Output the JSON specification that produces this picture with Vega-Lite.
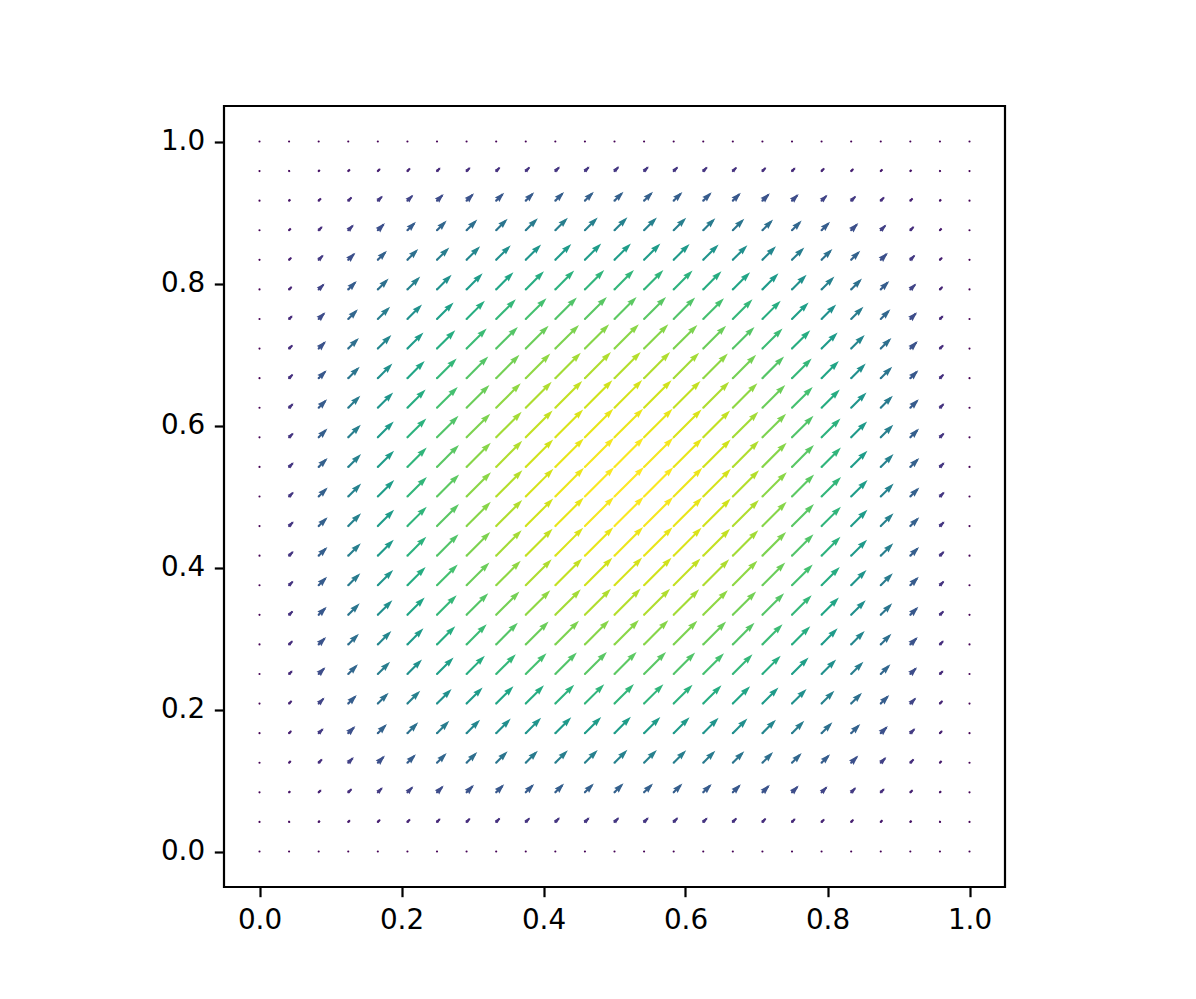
{
"$schema": "https://vega.github.io/schema/vega-lite/v6.json",
"background": "white",
"autosize": "none",
"width": 781,
"height": 781,
"padding": {"left": 224, "top": 106, "right": 191, "bottom": 112},
"config": {
  "view": {"stroke": "black", "strokeWidth": 2.2},
  "axis": {"domain": false, "grid": false, "tickSize": 9.7, "tickWidth": 2.2, "tickColor": "black", "labelFont": "DejaVu Sans", "labelFontSize": 27.8, "labelColor": "black", "labelPadding": 9.7, "labelFlush": false, "labelOverlap": false}
},
"data": {"values": [
{"x":0,"y":0,"m":0},{"x":0.0417,"y":0,"m":0},{"x":0.0833,"y":0,"m":0},{"x":0.125,"y":0,"m":0},{"x":0.1667,"y":0,"m":0},{"x":0.2083,"y":0,"m":0},{"x":0.25,"y":0,"m":0},{"x":0.2917,"y":0,"m":0},{"x":0.3333,"y":0,"m":0},{"x":0.375,"y":0,"m":0},{"x":0.4167,"y":0,"m":0},{"x":0.4583,"y":0,"m":0},{"x":0.5,"y":0,"m":0},{"x":0.5417,"y":0,"m":0},{"x":0.5833,"y":0,"m":0},{"x":0.625,"y":0,"m":0},{"x":0.6667,"y":0,"m":0},{"x":0.7083,"y":0,"m":0},{"x":0.75,"y":0,"m":0},{"x":0.7917,"y":0,"m":0},{"x":0.8333,"y":0,"m":0},{"x":0.875,"y":0,"m":0},{"x":0.9167,"y":0,"m":0},{"x":0.9583,"y":0,"m":0},{"x":1,"y":0,"m":0},
{"x":0,"y":0.0417,"m":0},{"x":0.0417,"y":0.0417,"m":0.026},{"x":0.0833,"y":0.0417,"m":0.049},{"x":0.125,"y":0.0417,"m":0.070},{"x":0.1667,"y":0.0417,"m":0.089},{"x":0.2083,"y":0.0417,"m":0.105},{"x":0.25,"y":0.0417,"m":0.120},{"x":0.2917,"y":0.0417,"m":0.132},{"x":0.3333,"y":0.0417,"m":0.142},{"x":0.375,"y":0.0417,"m":0.150},{"x":0.4167,"y":0.0417,"m":0.155},{"x":0.4583,"y":0.0417,"m":0.159},{"x":0.5,"y":0.0417,"m":0.160},{"x":0.5417,"y":0.0417,"m":0.159},{"x":0.5833,"y":0.0417,"m":0.155},{"x":0.625,"y":0.0417,"m":0.150},{"x":0.6667,"y":0.0417,"m":0.142},{"x":0.7083,"y":0.0417,"m":0.132},{"x":0.75,"y":0.0417,"m":0.120},{"x":0.7917,"y":0.0417,"m":0.105},{"x":0.8333,"y":0.0417,"m":0.089},{"x":0.875,"y":0.0417,"m":0.070},{"x":0.9167,"y":0.0417,"m":0.049},{"x":0.9583,"y":0.0417,"m":0.026},{"x":1,"y":0.0417,"m":0},
{"x":0,"y":0.0833,"m":0},{"x":0.0417,"y":0.0833,"m":0.049},{"x":0.0833,"y":0.0833,"m":0.093},{"x":0.125,"y":0.0833,"m":0.134},{"x":0.1667,"y":0.0833,"m":0.170},{"x":0.2083,"y":0.0833,"m":0.202},{"x":0.25,"y":0.0833,"m":0.229},{"x":0.2917,"y":0.0833,"m":0.253},{"x":0.3333,"y":0.0833,"m":0.272},{"x":0.375,"y":0.0833,"m":0.286},{"x":0.4167,"y":0.0833,"m":0.297},{"x":0.4583,"y":0.0833,"m":0.303},{"x":0.5,"y":0.0833,"m":0.306},{"x":0.5417,"y":0.0833,"m":0.303},{"x":0.5833,"y":0.0833,"m":0.297},{"x":0.625,"y":0.0833,"m":0.286},{"x":0.6667,"y":0.0833,"m":0.272},{"x":0.7083,"y":0.0833,"m":0.253},{"x":0.75,"y":0.0833,"m":0.229},{"x":0.7917,"y":0.0833,"m":0.202},{"x":0.8333,"y":0.0833,"m":0.170},{"x":0.875,"y":0.0833,"m":0.134},{"x":0.9167,"y":0.0833,"m":0.093},{"x":0.9583,"y":0.0833,"m":0.049},{"x":1,"y":0.0833,"m":0},
{"x":0,"y":0.125,"m":0},{"x":0.0417,"y":0.125,"m":0.070},{"x":0.0833,"y":0.125,"m":0.134},{"x":0.125,"y":0.125,"m":0.191},{"x":0.1667,"y":0.125,"m":0.243},{"x":0.2083,"y":0.125,"m":0.289},{"x":0.25,"y":0.125,"m":0.328},{"x":0.2917,"y":0.125,"m":0.362},{"x":0.3333,"y":0.125,"m":0.389},{"x":0.375,"y":0.125,"m":0.410},{"x":0.4167,"y":0.125,"m":0.425},{"x":0.4583,"y":0.125,"m":0.434},{"x":0.5,"y":0.125,"m":0.438},{"x":0.5417,"y":0.125,"m":0.434},{"x":0.5833,"y":0.125,"m":0.425},{"x":0.625,"y":0.125,"m":0.410},{"x":0.6667,"y":0.125,"m":0.389},{"x":0.7083,"y":0.125,"m":0.362},{"x":0.75,"y":0.125,"m":0.328},{"x":0.7917,"y":0.125,"m":0.289},{"x":0.8333,"y":0.125,"m":0.243},{"x":0.875,"y":0.125,"m":0.191},{"x":0.9167,"y":0.125,"m":0.134},{"x":0.9583,"y":0.125,"m":0.070},{"x":1,"y":0.125,"m":0},
{"x":0,"y":0.1667,"m":0},{"x":0.0417,"y":0.1667,"m":0.089},{"x":0.0833,"y":0.1667,"m":0.170},{"x":0.125,"y":0.1667,"m":0.243},{"x":0.1667,"y":0.1667,"m":0.309},{"x":0.2083,"y":0.1667,"m":0.367},{"x":0.25,"y":0.1667,"m":0.417},{"x":0.2917,"y":0.1667,"m":0.459},{"x":0.3333,"y":0.1667,"m":0.494},{"x":0.375,"y":0.1667,"m":0.521},{"x":0.4167,"y":0.1667,"m":0.540},{"x":0.4583,"y":0.1667,"m":0.552},{"x":0.5,"y":0.1667,"m":0.556},{"x":0.5417,"y":0.1667,"m":0.552},{"x":0.5833,"y":0.1667,"m":0.540},{"x":0.625,"y":0.1667,"m":0.521},{"x":0.6667,"y":0.1667,"m":0.494},{"x":0.7083,"y":0.1667,"m":0.459},{"x":0.75,"y":0.1667,"m":0.417},{"x":0.7917,"y":0.1667,"m":0.367},{"x":0.8333,"y":0.1667,"m":0.309},{"x":0.875,"y":0.1667,"m":0.243},{"x":0.9167,"y":0.1667,"m":0.170},{"x":0.9583,"y":0.1667,"m":0.089},{"x":1,"y":0.1667,"m":0},
{"x":0,"y":0.2083,"m":0},{"x":0.0417,"y":0.2083,"m":0.105},{"x":0.0833,"y":0.2083,"m":0.202},{"x":0.125,"y":0.2083,"m":0.289},{"x":0.1667,"y":0.2083,"m":0.367},{"x":0.2083,"y":0.2083,"m":0.435},{"x":0.25,"y":0.2083,"m":0.495},{"x":0.2917,"y":0.2083,"m":0.545},{"x":0.3333,"y":0.2083,"m":0.586},{"x":0.375,"y":0.2083,"m":0.618},{"x":0.4167,"y":0.2083,"m":0.641},{"x":0.4583,"y":0.2083,"m":0.655},{"x":0.5,"y":0.2083,"m":0.660},{"x":0.5417,"y":0.2083,"m":0.655},{"x":0.5833,"y":0.2083,"m":0.641},{"x":0.625,"y":0.2083,"m":0.618},{"x":0.6667,"y":0.2083,"m":0.586},{"x":0.7083,"y":0.2083,"m":0.545},{"x":0.75,"y":0.2083,"m":0.495},{"x":0.7917,"y":0.2083,"m":0.435},{"x":0.8333,"y":0.2083,"m":0.367},{"x":0.875,"y":0.2083,"m":0.289},{"x":0.9167,"y":0.2083,"m":0.202},{"x":0.9583,"y":0.2083,"m":0.105},{"x":1,"y":0.2083,"m":0},
{"x":0,"y":0.25,"m":0},{"x":0.0417,"y":0.25,"m":0.120},{"x":0.0833,"y":0.25,"m":0.229},{"x":0.125,"y":0.25,"m":0.328},{"x":0.1667,"y":0.25,"m":0.417},{"x":0.2083,"y":0.25,"m":0.495},{"x":0.25,"y":0.25,"m":0.563},{"x":0.2917,"y":0.25,"m":0.620},{"x":0.3333,"y":0.25,"m":0.667},{"x":0.375,"y":0.25,"m":0.703},{"x":0.4167,"y":0.25,"m":0.729},{"x":0.4583,"y":0.25,"m":0.745},{"x":0.5,"y":0.25,"m":0.750},{"x":0.5417,"y":0.25,"m":0.745},{"x":0.5833,"y":0.25,"m":0.729},{"x":0.625,"y":0.25,"m":0.703},{"x":0.6667,"y":0.25,"m":0.667},{"x":0.7083,"y":0.25,"m":0.620},{"x":0.75,"y":0.25,"m":0.563},{"x":0.7917,"y":0.25,"m":0.495},{"x":0.8333,"y":0.25,"m":0.417},{"x":0.875,"y":0.25,"m":0.328},{"x":0.9167,"y":0.25,"m":0.229},{"x":0.9583,"y":0.25,"m":0.120},{"x":1,"y":0.25,"m":0},
{"x":0,"y":0.2917,"m":0},{"x":0.0417,"y":0.2917,"m":0.132},{"x":0.0833,"y":0.2917,"m":0.253},{"x":0.125,"y":0.2917,"m":0.362},{"x":0.1667,"y":0.2917,"m":0.459},{"x":0.2083,"y":0.2917,"m":0.545},{"x":0.25,"y":0.2917,"m":0.620},{"x":0.2917,"y":0.2917,"m":0.683},{"x":0.3333,"y":0.2917,"m":0.735},{"x":0.375,"y":0.2917,"m":0.775},{"x":0.4167,"y":0.2917,"m":0.803},{"x":0.4583,"y":0.2917,"m":0.821},{"x":0.5,"y":0.2917,"m":0.826},{"x":0.5417,"y":0.2917,"m":0.821},{"x":0.5833,"y":0.2917,"m":0.803},{"x":0.625,"y":0.2917,"m":0.775},{"x":0.6667,"y":0.2917,"m":0.735},{"x":0.7083,"y":0.2917,"m":0.683},{"x":0.75,"y":0.2917,"m":0.620},{"x":0.7917,"y":0.2917,"m":0.545},{"x":0.8333,"y":0.2917,"m":0.459},{"x":0.875,"y":0.2917,"m":0.362},{"x":0.9167,"y":0.2917,"m":0.253},{"x":0.9583,"y":0.2917,"m":0.132},{"x":1,"y":0.2917,"m":0},
{"x":0,"y":0.3333,"m":0},{"x":0.0417,"y":0.3333,"m":0.142},{"x":0.0833,"y":0.3333,"m":0.272},{"x":0.125,"y":0.3333,"m":0.389},{"x":0.1667,"y":0.3333,"m":0.494},{"x":0.2083,"y":0.3333,"m":0.586},{"x":0.25,"y":0.3333,"m":0.667},{"x":0.2917,"y":0.3333,"m":0.735},{"x":0.3333,"y":0.3333,"m":0.790},{"x":0.375,"y":0.3333,"m":0.833},{"x":0.4167,"y":0.3333,"m":0.864},{"x":0.4583,"y":0.3333,"m":0.883},{"x":0.5,"y":0.3333,"m":0.889},{"x":0.5417,"y":0.3333,"m":0.883},{"x":0.5833,"y":0.3333,"m":0.864},{"x":0.625,"y":0.3333,"m":0.833},{"x":0.6667,"y":0.3333,"m":0.790},{"x":0.7083,"y":0.3333,"m":0.735},{"x":0.75,"y":0.3333,"m":0.667},{"x":0.7917,"y":0.3333,"m":0.586},{"x":0.8333,"y":0.3333,"m":0.494},{"x":0.875,"y":0.3333,"m":0.389},{"x":0.9167,"y":0.3333,"m":0.272},{"x":0.9583,"y":0.3333,"m":0.142},{"x":1,"y":0.3333,"m":0},
{"x":0,"y":0.375,"m":0},{"x":0.0417,"y":0.375,"m":0.150},{"x":0.0833,"y":0.375,"m":0.286},{"x":0.125,"y":0.375,"m":0.410},{"x":0.1667,"y":0.375,"m":0.521},{"x":0.2083,"y":0.375,"m":0.618},{"x":0.25,"y":0.375,"m":0.703},{"x":0.2917,"y":0.375,"m":0.775},{"x":0.3333,"y":0.375,"m":0.833},{"x":0.375,"y":0.375,"m":0.879},{"x":0.4167,"y":0.375,"m":0.911},{"x":0.4583,"y":0.375,"m":0.931},{"x":0.5,"y":0.375,"m":0.938},{"x":0.5417,"y":0.375,"m":0.931},{"x":0.5833,"y":0.375,"m":0.911},{"x":0.625,"y":0.375,"m":0.879},{"x":0.6667,"y":0.375,"m":0.833},{"x":0.7083,"y":0.375,"m":0.775},{"x":0.75,"y":0.375,"m":0.703},{"x":0.7917,"y":0.375,"m":0.618},{"x":0.8333,"y":0.375,"m":0.521},{"x":0.875,"y":0.375,"m":0.410},{"x":0.9167,"y":0.375,"m":0.286},{"x":0.9583,"y":0.375,"m":0.150},{"x":1,"y":0.375,"m":0},
{"x":0,"y":0.4167,"m":0},{"x":0.0417,"y":0.4167,"m":0.155},{"x":0.0833,"y":0.4167,"m":0.297},{"x":0.125,"y":0.4167,"m":0.425},{"x":0.1667,"y":0.4167,"m":0.540},{"x":0.2083,"y":0.4167,"m":0.641},{"x":0.25,"y":0.4167,"m":0.729},{"x":0.2917,"y":0.4167,"m":0.803},{"x":0.3333,"y":0.4167,"m":0.864},{"x":0.375,"y":0.4167,"m":0.911},{"x":0.4167,"y":0.4167,"m":0.945},{"x":0.4583,"y":0.4167,"m":0.965},{"x":0.5,"y":0.4167,"m":0.972},{"x":0.5417,"y":0.4167,"m":0.965},{"x":0.5833,"y":0.4167,"m":0.945},{"x":0.625,"y":0.4167,"m":0.911},{"x":0.6667,"y":0.4167,"m":0.864},{"x":0.7083,"y":0.4167,"m":0.803},{"x":0.75,"y":0.4167,"m":0.729},{"x":0.7917,"y":0.4167,"m":0.641},{"x":0.8333,"y":0.4167,"m":0.540},{"x":0.875,"y":0.4167,"m":0.425},{"x":0.9167,"y":0.4167,"m":0.297},{"x":0.9583,"y":0.4167,"m":0.155},{"x":1,"y":0.4167,"m":0},
{"x":0,"y":0.4583,"m":0},{"x":0.0417,"y":0.4583,"m":0.159},{"x":0.0833,"y":0.4583,"m":0.303},{"x":0.125,"y":0.4583,"m":0.434},{"x":0.1667,"y":0.4583,"m":0.552},{"x":0.2083,"y":0.4583,"m":0.655},{"x":0.25,"y":0.4583,"m":0.745},{"x":0.2917,"y":0.4583,"m":0.821},{"x":0.3333,"y":0.4583,"m":0.883},{"x":0.375,"y":0.4583,"m":0.931},{"x":0.4167,"y":0.4583,"m":0.965},{"x":0.4583,"y":0.4583,"m":0.986},{"x":0.5,"y":0.4583,"m":0.993},{"x":0.5417,"y":0.4583,"m":0.986},{"x":0.5833,"y":0.4583,"m":0.965},{"x":0.625,"y":0.4583,"m":0.931},{"x":0.6667,"y":0.4583,"m":0.883},{"x":0.7083,"y":0.4583,"m":0.821},{"x":0.75,"y":0.4583,"m":0.745},{"x":0.7917,"y":0.4583,"m":0.655},{"x":0.8333,"y":0.4583,"m":0.552},{"x":0.875,"y":0.4583,"m":0.434},{"x":0.9167,"y":0.4583,"m":0.303},{"x":0.9583,"y":0.4583,"m":0.159},{"x":1,"y":0.4583,"m":0},
{"x":0,"y":0.5,"m":0},{"x":0.0417,"y":0.5,"m":0.160},{"x":0.0833,"y":0.5,"m":0.306},{"x":0.125,"y":0.5,"m":0.438},{"x":0.1667,"y":0.5,"m":0.556},{"x":0.2083,"y":0.5,"m":0.660},{"x":0.25,"y":0.5,"m":0.750},{"x":0.2917,"y":0.5,"m":0.826},{"x":0.3333,"y":0.5,"m":0.889},{"x":0.375,"y":0.5,"m":0.938},{"x":0.4167,"y":0.5,"m":0.972},{"x":0.4583,"y":0.5,"m":0.993},{"x":0.5,"y":0.5,"m":1},{"x":0.5417,"y":0.5,"m":0.993},{"x":0.5833,"y":0.5,"m":0.972},{"x":0.625,"y":0.5,"m":0.938},{"x":0.6667,"y":0.5,"m":0.889},{"x":0.7083,"y":0.5,"m":0.826},{"x":0.75,"y":0.5,"m":0.750},{"x":0.7917,"y":0.5,"m":0.660},{"x":0.8333,"y":0.5,"m":0.556},{"x":0.875,"y":0.5,"m":0.438},{"x":0.9167,"y":0.5,"m":0.306},{"x":0.9583,"y":0.5,"m":0.160},{"x":1,"y":0.5,"m":0},
{"x":0,"y":0.5417,"m":0},{"x":0.0417,"y":0.5417,"m":0.159},{"x":0.0833,"y":0.5417,"m":0.303},{"x":0.125,"y":0.5417,"m":0.434},{"x":0.1667,"y":0.5417,"m":0.552},{"x":0.2083,"y":0.5417,"m":0.655},{"x":0.25,"y":0.5417,"m":0.745},{"x":0.2917,"y":0.5417,"m":0.821},{"x":0.3333,"y":0.5417,"m":0.883},{"x":0.375,"y":0.5417,"m":0.931},{"x":0.4167,"y":0.5417,"m":0.965},{"x":0.4583,"y":0.5417,"m":0.986},{"x":0.5,"y":0.5417,"m":0.993},{"x":0.5417,"y":0.5417,"m":0.986},{"x":0.5833,"y":0.5417,"m":0.965},{"x":0.625,"y":0.5417,"m":0.931},{"x":0.6667,"y":0.5417,"m":0.883},{"x":0.7083,"y":0.5417,"m":0.821},{"x":0.75,"y":0.5417,"m":0.745},{"x":0.7917,"y":0.5417,"m":0.655},{"x":0.8333,"y":0.5417,"m":0.552},{"x":0.875,"y":0.5417,"m":0.434},{"x":0.9167,"y":0.5417,"m":0.303},{"x":0.9583,"y":0.5417,"m":0.159},{"x":1,"y":0.5417,"m":0},
{"x":0,"y":0.5833,"m":0},{"x":0.0417,"y":0.5833,"m":0.155},{"x":0.0833,"y":0.5833,"m":0.297},{"x":0.125,"y":0.5833,"m":0.425},{"x":0.1667,"y":0.5833,"m":0.540},{"x":0.2083,"y":0.5833,"m":0.641},{"x":0.25,"y":0.5833,"m":0.729},{"x":0.2917,"y":0.5833,"m":0.803},{"x":0.3333,"y":0.5833,"m":0.864},{"x":0.375,"y":0.5833,"m":0.911},{"x":0.4167,"y":0.5833,"m":0.945},{"x":0.4583,"y":0.5833,"m":0.965},{"x":0.5,"y":0.5833,"m":0.972},{"x":0.5417,"y":0.5833,"m":0.965},{"x":0.5833,"y":0.5833,"m":0.945},{"x":0.625,"y":0.5833,"m":0.911},{"x":0.6667,"y":0.5833,"m":0.864},{"x":0.7083,"y":0.5833,"m":0.803},{"x":0.75,"y":0.5833,"m":0.729},{"x":0.7917,"y":0.5833,"m":0.641},{"x":0.8333,"y":0.5833,"m":0.540},{"x":0.875,"y":0.5833,"m":0.425},{"x":0.9167,"y":0.5833,"m":0.297},{"x":0.9583,"y":0.5833,"m":0.155},{"x":1,"y":0.5833,"m":0},
{"x":0,"y":0.625,"m":0},{"x":0.0417,"y":0.625,"m":0.150},{"x":0.0833,"y":0.625,"m":0.286},{"x":0.125,"y":0.625,"m":0.410},{"x":0.1667,"y":0.625,"m":0.521},{"x":0.2083,"y":0.625,"m":0.618},{"x":0.25,"y":0.625,"m":0.703},{"x":0.2917,"y":0.625,"m":0.775},{"x":0.3333,"y":0.625,"m":0.833},{"x":0.375,"y":0.625,"m":0.879},{"x":0.4167,"y":0.625,"m":0.911},{"x":0.4583,"y":0.625,"m":0.931},{"x":0.5,"y":0.625,"m":0.938},{"x":0.5417,"y":0.625,"m":0.931},{"x":0.5833,"y":0.625,"m":0.911},{"x":0.625,"y":0.625,"m":0.879},{"x":0.6667,"y":0.625,"m":0.833},{"x":0.7083,"y":0.625,"m":0.775},{"x":0.75,"y":0.625,"m":0.703},{"x":0.7917,"y":0.625,"m":0.618},{"x":0.8333,"y":0.625,"m":0.521},{"x":0.875,"y":0.625,"m":0.410},{"x":0.9167,"y":0.625,"m":0.286},{"x":0.9583,"y":0.625,"m":0.150},{"x":1,"y":0.625,"m":0},
{"x":0,"y":0.6667,"m":0},{"x":0.0417,"y":0.6667,"m":0.142},{"x":0.0833,"y":0.6667,"m":0.272},{"x":0.125,"y":0.6667,"m":0.389},{"x":0.1667,"y":0.6667,"m":0.494},{"x":0.2083,"y":0.6667,"m":0.586},{"x":0.25,"y":0.6667,"m":0.667},{"x":0.2917,"y":0.6667,"m":0.735},{"x":0.3333,"y":0.6667,"m":0.790},{"x":0.375,"y":0.6667,"m":0.833},{"x":0.4167,"y":0.6667,"m":0.864},{"x":0.4583,"y":0.6667,"m":0.883},{"x":0.5,"y":0.6667,"m":0.889},{"x":0.5417,"y":0.6667,"m":0.883},{"x":0.5833,"y":0.6667,"m":0.864},{"x":0.625,"y":0.6667,"m":0.833},{"x":0.6667,"y":0.6667,"m":0.790},{"x":0.7083,"y":0.6667,"m":0.735},{"x":0.75,"y":0.6667,"m":0.667},{"x":0.7917,"y":0.6667,"m":0.586},{"x":0.8333,"y":0.6667,"m":0.494},{"x":0.875,"y":0.6667,"m":0.389},{"x":0.9167,"y":0.6667,"m":0.272},{"x":0.9583,"y":0.6667,"m":0.142},{"x":1,"y":0.6667,"m":0},
{"x":0,"y":0.7083,"m":0},{"x":0.0417,"y":0.7083,"m":0.132},{"x":0.0833,"y":0.7083,"m":0.253},{"x":0.125,"y":0.7083,"m":0.362},{"x":0.1667,"y":0.7083,"m":0.459},{"x":0.2083,"y":0.7083,"m":0.545},{"x":0.25,"y":0.7083,"m":0.620},{"x":0.2917,"y":0.7083,"m":0.683},{"x":0.3333,"y":0.7083,"m":0.735},{"x":0.375,"y":0.7083,"m":0.775},{"x":0.4167,"y":0.7083,"m":0.803},{"x":0.4583,"y":0.7083,"m":0.821},{"x":0.5,"y":0.7083,"m":0.826},{"x":0.5417,"y":0.7083,"m":0.821},{"x":0.5833,"y":0.7083,"m":0.803},{"x":0.625,"y":0.7083,"m":0.775},{"x":0.6667,"y":0.7083,"m":0.735},{"x":0.7083,"y":0.7083,"m":0.683},{"x":0.75,"y":0.7083,"m":0.620},{"x":0.7917,"y":0.7083,"m":0.545},{"x":0.8333,"y":0.7083,"m":0.459},{"x":0.875,"y":0.7083,"m":0.362},{"x":0.9167,"y":0.7083,"m":0.253},{"x":0.9583,"y":0.7083,"m":0.132},{"x":1,"y":0.7083,"m":0},
{"x":0,"y":0.75,"m":0},{"x":0.0417,"y":0.75,"m":0.120},{"x":0.0833,"y":0.75,"m":0.229},{"x":0.125,"y":0.75,"m":0.328},{"x":0.1667,"y":0.75,"m":0.417},{"x":0.2083,"y":0.75,"m":0.495},{"x":0.25,"y":0.75,"m":0.563},{"x":0.2917,"y":0.75,"m":0.620},{"x":0.3333,"y":0.75,"m":0.667},{"x":0.375,"y":0.75,"m":0.703},{"x":0.4167,"y":0.75,"m":0.729},{"x":0.4583,"y":0.75,"m":0.745},{"x":0.5,"y":0.75,"m":0.750},{"x":0.5417,"y":0.75,"m":0.745},{"x":0.5833,"y":0.75,"m":0.729},{"x":0.625,"y":0.75,"m":0.703},{"x":0.6667,"y":0.75,"m":0.667},{"x":0.7083,"y":0.75,"m":0.620},{"x":0.75,"y":0.75,"m":0.563},{"x":0.7917,"y":0.75,"m":0.495},{"x":0.8333,"y":0.75,"m":0.417},{"x":0.875,"y":0.75,"m":0.328},{"x":0.9167,"y":0.75,"m":0.229},{"x":0.9583,"y":0.75,"m":0.120},{"x":1,"y":0.75,"m":0},
{"x":0,"y":0.7917,"m":0},{"x":0.0417,"y":0.7917,"m":0.105},{"x":0.0833,"y":0.7917,"m":0.202},{"x":0.125,"y":0.7917,"m":0.289},{"x":0.1667,"y":0.7917,"m":0.367},{"x":0.2083,"y":0.7917,"m":0.435},{"x":0.25,"y":0.7917,"m":0.495},{"x":0.2917,"y":0.7917,"m":0.545},{"x":0.3333,"y":0.7917,"m":0.586},{"x":0.375,"y":0.7917,"m":0.618},{"x":0.4167,"y":0.7917,"m":0.641},{"x":0.4583,"y":0.7917,"m":0.655},{"x":0.5,"y":0.7917,"m":0.660},{"x":0.5417,"y":0.7917,"m":0.655},{"x":0.5833,"y":0.7917,"m":0.641},{"x":0.625,"y":0.7917,"m":0.618},{"x":0.6667,"y":0.7917,"m":0.586},{"x":0.7083,"y":0.7917,"m":0.545},{"x":0.75,"y":0.7917,"m":0.495},{"x":0.7917,"y":0.7917,"m":0.435},{"x":0.8333,"y":0.7917,"m":0.367},{"x":0.875,"y":0.7917,"m":0.289},{"x":0.9167,"y":0.7917,"m":0.202},{"x":0.9583,"y":0.7917,"m":0.105},{"x":1,"y":0.7917,"m":0},
{"x":0,"y":0.8333,"m":0},{"x":0.0417,"y":0.8333,"m":0.089},{"x":0.0833,"y":0.8333,"m":0.170},{"x":0.125,"y":0.8333,"m":0.243},{"x":0.1667,"y":0.8333,"m":0.309},{"x":0.2083,"y":0.8333,"m":0.367},{"x":0.25,"y":0.8333,"m":0.417},{"x":0.2917,"y":0.8333,"m":0.459},{"x":0.3333,"y":0.8333,"m":0.494},{"x":0.375,"y":0.8333,"m":0.521},{"x":0.4167,"y":0.8333,"m":0.540},{"x":0.4583,"y":0.8333,"m":0.552},{"x":0.5,"y":0.8333,"m":0.556},{"x":0.5417,"y":0.8333,"m":0.552},{"x":0.5833,"y":0.8333,"m":0.540},{"x":0.625,"y":0.8333,"m":0.521},{"x":0.6667,"y":0.8333,"m":0.494},{"x":0.7083,"y":0.8333,"m":0.459},{"x":0.75,"y":0.8333,"m":0.417},{"x":0.7917,"y":0.8333,"m":0.367},{"x":0.8333,"y":0.8333,"m":0.309},{"x":0.875,"y":0.8333,"m":0.243},{"x":0.9167,"y":0.8333,"m":0.170},{"x":0.9583,"y":0.8333,"m":0.089},{"x":1,"y":0.8333,"m":0},
{"x":0,"y":0.875,"m":0},{"x":0.0417,"y":0.875,"m":0.070},{"x":0.0833,"y":0.875,"m":0.134},{"x":0.125,"y":0.875,"m":0.191},{"x":0.1667,"y":0.875,"m":0.243},{"x":0.2083,"y":0.875,"m":0.289},{"x":0.25,"y":0.875,"m":0.328},{"x":0.2917,"y":0.875,"m":0.362},{"x":0.3333,"y":0.875,"m":0.389},{"x":0.375,"y":0.875,"m":0.410},{"x":0.4167,"y":0.875,"m":0.425},{"x":0.4583,"y":0.875,"m":0.434},{"x":0.5,"y":0.875,"m":0.438},{"x":0.5417,"y":0.875,"m":0.434},{"x":0.5833,"y":0.875,"m":0.425},{"x":0.625,"y":0.875,"m":0.410},{"x":0.6667,"y":0.875,"m":0.389},{"x":0.7083,"y":0.875,"m":0.362},{"x":0.75,"y":0.875,"m":0.328},{"x":0.7917,"y":0.875,"m":0.289},{"x":0.8333,"y":0.875,"m":0.243},{"x":0.875,"y":0.875,"m":0.191},{"x":0.9167,"y":0.875,"m":0.134},{"x":0.9583,"y":0.875,"m":0.070},{"x":1,"y":0.875,"m":0},
{"x":0,"y":0.9167,"m":0},{"x":0.0417,"y":0.9167,"m":0.049},{"x":0.0833,"y":0.9167,"m":0.093},{"x":0.125,"y":0.9167,"m":0.134},{"x":0.1667,"y":0.9167,"m":0.170},{"x":0.2083,"y":0.9167,"m":0.202},{"x":0.25,"y":0.9167,"m":0.229},{"x":0.2917,"y":0.9167,"m":0.253},{"x":0.3333,"y":0.9167,"m":0.272},{"x":0.375,"y":0.9167,"m":0.286},{"x":0.4167,"y":0.9167,"m":0.297},{"x":0.4583,"y":0.9167,"m":0.303},{"x":0.5,"y":0.9167,"m":0.306},{"x":0.5417,"y":0.9167,"m":0.303},{"x":0.5833,"y":0.9167,"m":0.297},{"x":0.625,"y":0.9167,"m":0.286},{"x":0.6667,"y":0.9167,"m":0.272},{"x":0.7083,"y":0.9167,"m":0.253},{"x":0.75,"y":0.9167,"m":0.229},{"x":0.7917,"y":0.9167,"m":0.202},{"x":0.8333,"y":0.9167,"m":0.170},{"x":0.875,"y":0.9167,"m":0.134},{"x":0.9167,"y":0.9167,"m":0.093},{"x":0.9583,"y":0.9167,"m":0.049},{"x":1,"y":0.9167,"m":0},
{"x":0,"y":0.9583,"m":0},{"x":0.0417,"y":0.9583,"m":0.026},{"x":0.0833,"y":0.9583,"m":0.049},{"x":0.125,"y":0.9583,"m":0.070},{"x":0.1667,"y":0.9583,"m":0.089},{"x":0.2083,"y":0.9583,"m":0.105},{"x":0.25,"y":0.9583,"m":0.120},{"x":0.2917,"y":0.9583,"m":0.132},{"x":0.3333,"y":0.9583,"m":0.142},{"x":0.375,"y":0.9583,"m":0.150},{"x":0.4167,"y":0.9583,"m":0.155},{"x":0.4583,"y":0.9583,"m":0.159},{"x":0.5,"y":0.9583,"m":0.160},{"x":0.5417,"y":0.9583,"m":0.159},{"x":0.5833,"y":0.9583,"m":0.155},{"x":0.625,"y":0.9583,"m":0.150},{"x":0.6667,"y":0.9583,"m":0.142},{"x":0.7083,"y":0.9583,"m":0.132},{"x":0.75,"y":0.9583,"m":0.120},{"x":0.7917,"y":0.9583,"m":0.105},{"x":0.8333,"y":0.9583,"m":0.089},{"x":0.875,"y":0.9583,"m":0.070},{"x":0.9167,"y":0.9583,"m":0.049},{"x":0.9583,"y":0.9583,"m":0.026},{"x":1,"y":0.9583,"m":0},
{"x":0,"y":1,"m":0},{"x":0.0417,"y":1,"m":0},{"x":0.0833,"y":1,"m":0},{"x":0.125,"y":1,"m":0},{"x":0.1667,"y":1,"m":0},{"x":0.2083,"y":1,"m":0},{"x":0.25,"y":1,"m":0},{"x":0.2917,"y":1,"m":0},{"x":0.3333,"y":1,"m":0},{"x":0.375,"y":1,"m":0},{"x":0.4167,"y":1,"m":0},{"x":0.4583,"y":1,"m":0},{"x":0.5,"y":1,"m":0},{"x":0.5417,"y":1,"m":0},{"x":0.5833,"y":1,"m":0},{"x":0.625,"y":1,"m":0},{"x":0.6667,"y":1,"m":0},{"x":0.7083,"y":1,"m":0},{"x":0.75,"y":1,"m":0},{"x":0.7917,"y":1,"m":0},{"x":0.8333,"y":1,"m":0},{"x":0.875,"y":1,"m":0},{"x":0.9167,"y":1,"m":0},{"x":0.9583,"y":1,"m":0},{"x":1,"y":1,"m":0}
]},
"encoding": {
  "color": {"field": "m", "type": "quantitative", "scale": {"scheme": "viridis", "domain": [0, 1]}, "legend": null}
},
"layer": [
  {"mark": {"type": "circle", "size": 4, "opacity": 0},
   "encoding": {
     "x": {"field": "x", "type": "quantitative", "scale": {"domain": [-0.05, 1.05], "nice": false, "zero": false}, "axis": {"title": null, "values": [0, 0.2, 0.4, 0.6, 0.8, 1.0], "format": ".1f"}},
     "y": {"field": "y", "type": "quantitative", "scale": {"domain": [-0.05, 1.05], "nice": false, "zero": false}, "axis": {"title": null, "values": [0, 0.2, 0.4, 0.6, 0.8, 1.0], "format": ".1f"}}
   }},
  {"mark": {"type": "circle", "size": 4.5, "opacity": 1},
   "encoding": {
     "x": {"field": "x", "type": "ordinal", "sort": "ascending", "scale": {"type": "point", "padding": 0, "range": [35.5, 745.5]}, "axis": null},
     "y": {"field": "y", "type": "ordinal", "sort": "descending", "scale": {"type": "point", "padding": 0, "range": [35.5, 745.5]}, "axis": null}
   }},
  {"mark": {"type": "point", "shape": "M0,0L0.8,0", "filled": false, "strokeWidth": 2.1, "strokeCap": "butt", "angle": 315, "opacity": 1},
   "encoding": {
     "x": {"field": "x", "type": "ordinal", "sort": "ascending", "scale": {"type": "point", "padding": 0, "range": [35.5, 745.5]}, "axis": null},
     "y": {"field": "y", "type": "ordinal", "sort": "descending", "scale": {"type": "point", "padding": 0, "range": [35.5, 745.5]}, "axis": null},
     "size": {"field": "m", "type": "quantitative", "scale": {"type": "pow", "exponent": 2, "domain": [0, 1], "range": [0, 6956]}, "legend": null}}},
  {"mark": {"type": "point", "shape": "M0,0L-10,-3.2L-9,0L-10,3.2Z", "filled": true, "angle": 315, "opacity": 1, "strokeWidth": 0},
   "encoding": {
     "x": {"field": "x", "type": "ordinal", "sort": "ascending", "scale": {"type": "point", "padding": 0, "range": [35.5, 745.5]}, "axis": null},
     "y": {"field": "y", "type": "ordinal", "sort": "descending", "scale": {"type": "point", "padding": 0, "range": [35.5, 745.5]}, "axis": null},
     "size": {"field": "m", "type": "quantitative", "scale": {"type": "pow", "exponent": 2, "domain": [0, 0.24], "range": [0, 4], "clamp": true}, "legend": null},
     "xOffset": {"field": "m", "type": "quantitative", "scale": {"domain": [0, 1], "range": [0, 29.5]}},
     "yOffset": {"field": "m", "type": "quantitative", "scale": {"domain": [0, 1], "range": [0, -29.5]}}
   }}
],
"resolve": {"scale": {"size": "independent", "x": "independent", "y": "independent"}, "axis": {"x": "independent", "y": "independent"}}
}
